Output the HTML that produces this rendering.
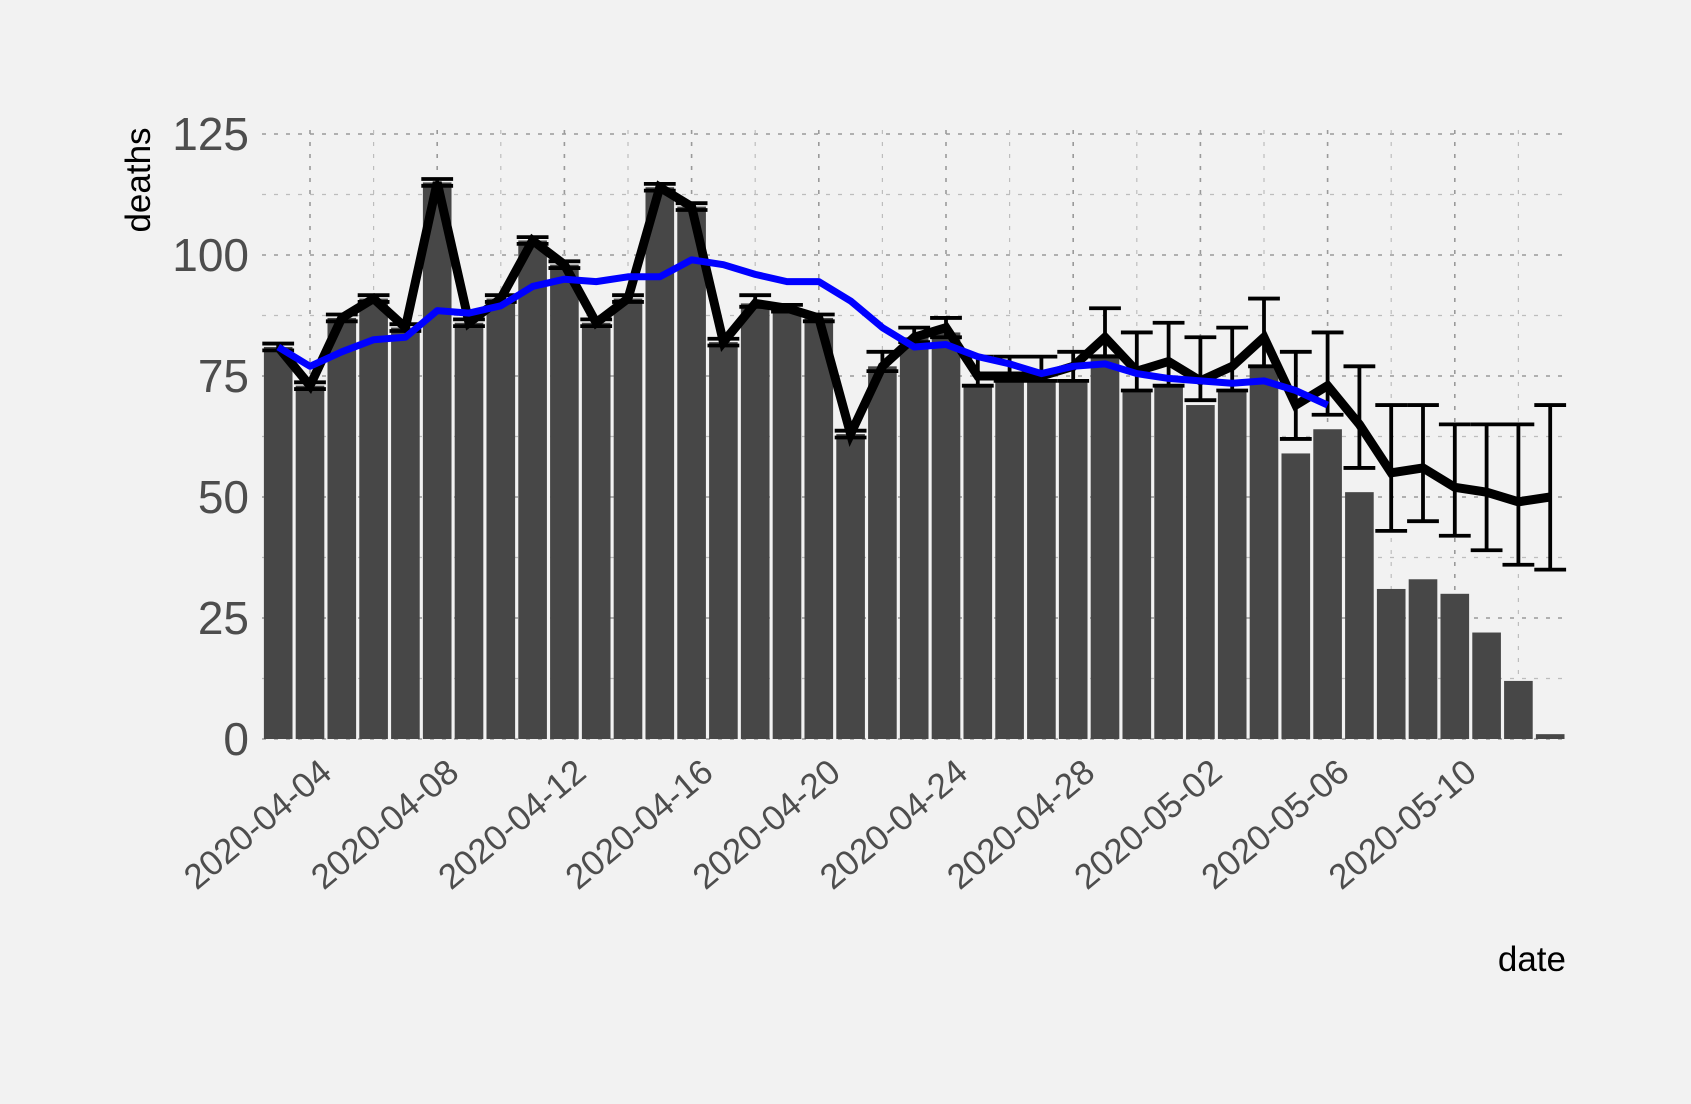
<!DOCTYPE html>
<html><head><meta charset="utf-8"><style>
html,body{margin:0;padding:0;background:#f2f2f2;}
svg{display:block;font-family:"Liberation Sans",Arial,sans-serif;}
</style></head><body>
<svg id="chart" width="1691" height="1104" viewBox="0 0 1691 1104">
<rect x="0" y="0" width="1691" height="1104" fill="#f2f2f2"/>
<g id="grid"></g>
<g id="bars"></g>
<g id="errs"></g>
<g id="lines"></g>
<g id="axes"></g>
<text x="150" y="180" font-size="35" fill="#000" text-anchor="middle" transform="rotate(-90 150 180)">deaths</text>
<text x="1566" y="971" font-size="35" fill="#000" text-anchor="end">date</text>
</svg>
<script>
const dates = ["2020-04-03","2020-04-04","2020-04-05","2020-04-06","2020-04-07","2020-04-08","2020-04-09","2020-04-10","2020-04-11","2020-04-12","2020-04-13","2020-04-14","2020-04-15","2020-04-16","2020-04-17","2020-04-18","2020-04-19","2020-04-20","2020-04-21","2020-04-22","2020-04-23","2020-04-24","2020-04-25","2020-04-26","2020-04-27","2020-04-28","2020-04-29","2020-04-30","2020-05-01","2020-05-02","2020-05-03","2020-05-04","2020-05-05","2020-05-06","2020-05-07","2020-05-08","2020-05-09","2020-05-10","2020-05-11","2020-05-12","2020-05-13"];
const barValues = [81,73,87,91,85,115,86,91,103,98,86,91,114,110,82,90,89,87,63,77,83,84,73,74,74,74,79.5,72,73,69,72,77,59,64,51,31,33,30,22,12,1];
const lineValues = [81,73,87,91,85,115,86,91,103,98,86,91,114,110,82,90,89,87,63,77,83,85,75,75,75,77,83,76,78,74,77,83,69,73,65,55,56,52,51,49,50];
const errLow = [80.3,72.3,86.3,90.3,84.3,114.3,85.3,90.3,102.3,97.3,85.3,90.3,113.3,109.3,81.3,89.3,88.3,86.3,62.3,76,82,83,73,74,74,74,79,72,73,70,72,77,62,67,56,43,45,42,39,36,35];
const errHigh = [81.7,73.7,87.7,91.7,85.7,115.7,86.7,91.7,103.7,98.7,86.7,91.7,114.7,110.7,82.7,91.7,89.7,87.7,63.7,80,85,87,79,79,79,80,89,84,86,83,85,91,80,84,77,69,69,65,65,65,69];
const smoothValues = [81,77,80,82.5,83,88.5,88,89.5,93.5,95,94.5,95.5,95.5,99,98,96,94.5,94.5,90.5,85,81,81.5,79,77.5,75.5,77,77.5,75.5,74.5,74,73.5,74,72,69];
const yTicks = [0,25,50,75,100,125];
const xTickIdx = [1,5,9,13,17,21,25,29,33,37];

const NS="http://www.w3.org/2000/svg";
const px0=262, px1=1566, y0=739, yk=121/25;
const step=31.8, xFirst=278.2;
const X=i=>xFirst+i*step;
const Y=v=>y0-v*yk;
function mk(tag,attrs,parent){const e=document.createElementNS(NS,tag);for(const k in attrs)e.setAttribute(k,attrs[k]);parent.appendChild(e);return e;}
const grid=document.getElementById('grid'),bars=document.getElementById('bars'),errs=document.getElementById('errs'),lines=document.getElementById('lines'),axes=document.getElementById('axes');
for(let v=0;v<=125;v+=12.5){
  const major=(v%25===0);
  const l=mk('line',{x1:px0,x2:px1,y1:Y(v),y2:Y(v),stroke:major?'#9a9a9a':'#bdbdbd','stroke-width':major?1.6:1.2,'stroke-dasharray':'4,8'},grid);
  
  
}
for(let i=-1;i<dates.length;i+=2){
  if(X(i)<px0)continue;
  const major=((i-1)%4===0);
  const l=mk('line',{x1:X(i),x2:X(i),y1:130,y2:y0,stroke:major?'#9a9a9a':'#bdbdbd','stroke-width':major?1.6:1.2,'stroke-dasharray':'4,8'},grid);
  
  
}
const bw=step*0.9;
barValues.forEach((v,i)=>{
  const r=mk('rect',{x:X(i)-bw/2,y:Y(v),width:bw,height:y0-Y(v),fill:'#474747'},bars);
  
  
});
errLow.forEach((lo,i)=>{
  const hi=errHigh[i],x=X(i),cw=step*0.5;
  const g=mk('g',{stroke:'#000','stroke-width':3.8},errs);
  
  
  mk('line',{x1:x,x2:x,y1:Y(lo),y2:Y(hi)},g);
  mk('line',{x1:x-cw,x2:x+cw,y1:Y(lo),y2:Y(lo)},g);
  mk('line',{x1:x-cw,x2:x+cw,y1:Y(hi),y2:Y(hi)},g);
});
const bl=mk('polyline',{points:lineValues.map((v,i)=>X(i)+','+Y(v)).join(' '),fill:'none',stroke:'#000','stroke-width':9,'stroke-linejoin':'miter','stroke-miterlimit':3},lines);


const sl=mk('polyline',{points:smoothValues.map((v,i)=>X(i)+','+Y(v)).join(' '),fill:'none',stroke:'#0000ff','stroke-width':7,'stroke-linejoin':'round'},lines);


yTicks.forEach(v=>{
  const t=mk('text',{x:249,y:Y(v)+16,'font-size':46,fill:'#4d4d4d','text-anchor':'end'},axes);
  t.textContent=v;
  
  
});
xTickIdx.forEach(i=>{
  const x=X(i)+8,y=757;
  const t=mk('text',{x:x,y:y,'font-size':35,fill:'#4d4d4d','text-anchor':'end',transform:'rotate(-40 '+x+' '+y+')',dy:'0.7em'},axes);
  t.textContent=dates[i];
  
  
});
</script>
</body></html>
